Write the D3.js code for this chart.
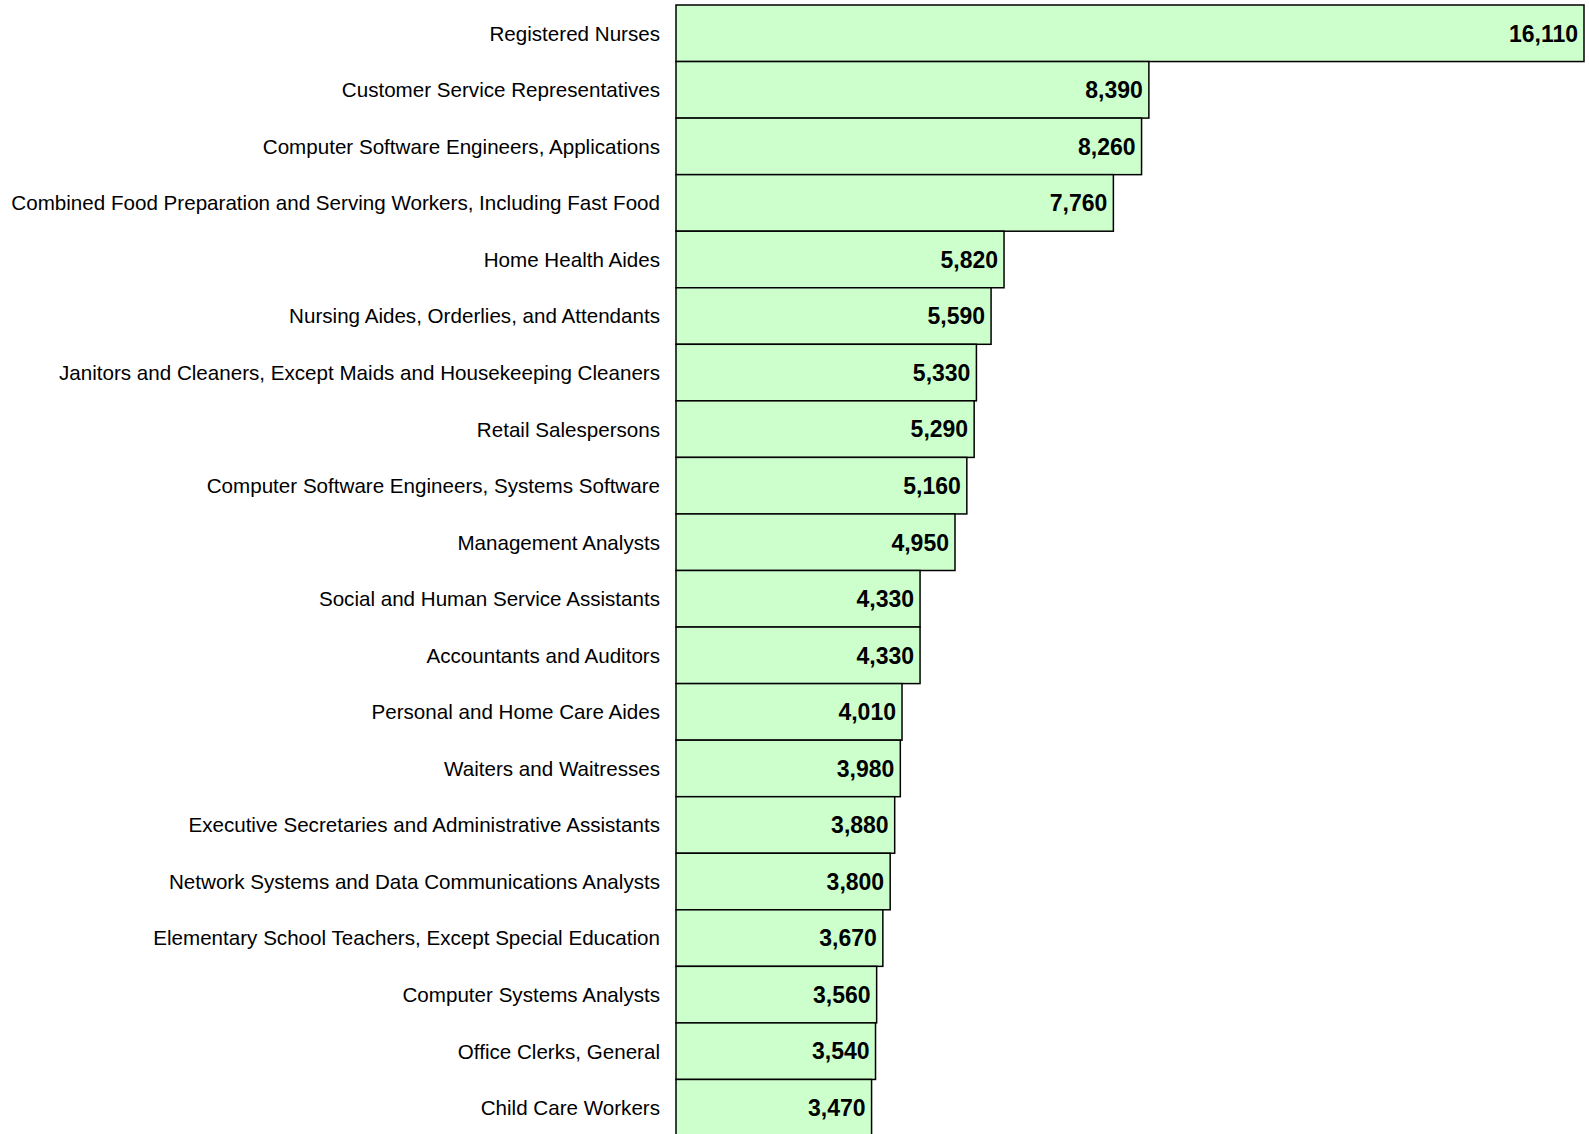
<!DOCTYPE html>
<html>
<head>
<meta charset="utf-8">
<script src="https://cdn.jsdelivr.net/npm/d3@7"></script>
<style>
  html, body { margin: 0; padding: 0; background: #fff; overflow: hidden; }
  svg { display: block; }
</style>
</head>
<body>
<svg id="chart" width="1589" height="1134"></svg>
<script>
const categories = [
  "Registered Nurses",
  "Customer Service Representatives",
  "Computer Software Engineers, Applications",
  "Combined Food Preparation and Serving Workers, Including Fast Food",
  "Home Health Aides",
  "Nursing Aides, Orderlies, and Attendants",
  "Janitors and Cleaners, Except Maids and Housekeeping Cleaners",
  "Retail Salespersons",
  "Computer Software Engineers, Systems Software",
  "Management Analysts",
  "Social and Human Service Assistants",
  "Accountants and Auditors",
  "Personal and Home Care Aides",
  "Waiters and Waitresses",
  "Executive Secretaries and Administrative Assistants",
  "Network Systems and Data Communications Analysts",
  "Elementary School Teachers, Except Special Education",
  "Computer Systems Analysts",
  "Office Clerks, General",
  "Child Care Workers"
];
const values = [16110, 8390, 8260, 7760, 5820, 5590, 5330, 5290, 5160, 4950,
                4330, 4330, 4010, 3980, 3880, 3800, 3670, 3560, 3540, 3470];

const data = categories.map((c, i) => ({ name: c, value: values[i] }));

const svg = d3.select("#chart");
const x = d3.scaleLinear().domain([0, 16110]).range([676, 1584]);
const y = d3.scaleBand().domain(categories).range([5, 5 + 20 * 56.55]).paddingInner(0).paddingOuter(0);
const fmt = d3.format(",");

const g = svg.append("g");

g.selectAll("rect.bar").data(data).enter().append("rect")
  .attr("class", "bar")
  .attr("x", x(0))
  .attr("y", d => y(d.name))
  .attr("width", d => x(d.value) - x(0))
  .attr("height", y.bandwidth())
  .attr("fill", "#CCFFCC")
  .attr("stroke", "#000")
  .attr("stroke-width", 1.5);

g.selectAll("text.val").data(data).enter().append("text")
  .attr("class", "val")
  .attr("x", d => x(d.value) - 6)
  .attr("y", d => y(d.name) + y.bandwidth() / 2)
  .attr("dy", "0.36em")
  .attr("text-anchor", "end")
  .attr("font-family", "'Liberation Sans', Arial, sans-serif")
  .attr("font-weight", "bold")
  .attr("font-size", "23px")
  .attr("fill", "#000")
  .text(d => fmt(d.value));

// category axis on left
const axis = d3.axisLeft(y).tickSize(0).tickPadding(16);
const ax = svg.append("g").attr("transform", `translate(${x(0)},0)`).call(axis);
ax.select(".domain").remove();
ax.selectAll("text")
  .attr("font-family", "'Liberation Sans', Arial, sans-serif")
  .attr("font-size", "20.6px")
  .attr("fill", "#000")
  .attr("dy", "0.36em");
</script>
</body>
</html>
